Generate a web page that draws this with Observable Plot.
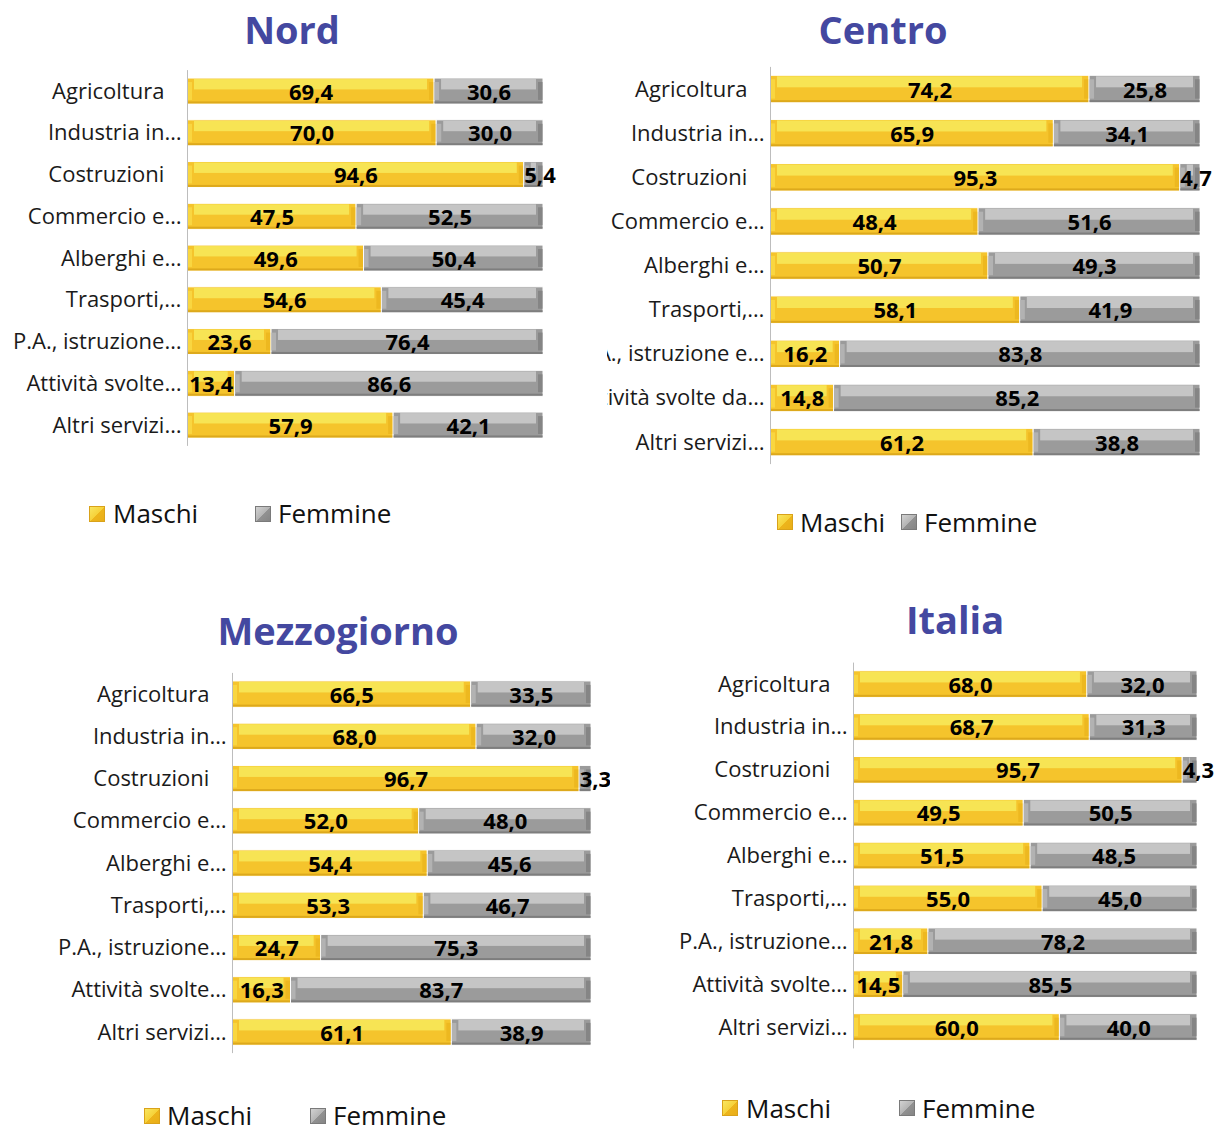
<!DOCTYPE html>
<html>
<head>
<meta charset="utf-8">
<script src="https://cdn.jsdelivr.net/npm/d3@7"></script>
<script src="https://cdn.jsdelivr.net/npm/@observablehq/plot@0.6"></script>
<style>
  html, body { margin: 0; padding: 0; background: #fff; }
  #page { position: relative; width: 1219px; height: 1128px; overflow: hidden; background: #fff; font-family: "Open Sans", sans-serif; }
  .panel { position: absolute; }
  .panel svg { overflow: hidden; display: block; }
  .title { position: absolute; transform: translateX(-50%); font-weight: 700; font-size: 38px; line-height: 1; color: #4448A0; white-space: nowrap; }
  .lg-sq { position: absolute; width: 16px; height: 16px; box-sizing: border-box; }
  .lg-sq.m { background: linear-gradient(135deg, #F9E660 0%, #F6D23A 50%, #EDB51C 51%, #E9AE18 100%); border: 1px solid #D9A21A; }
  .lg-sq.f { background: linear-gradient(135deg, #D2D2D2 0%, #B5B5B5 50%, #929292 51%, #858585 100%); border: 1px solid #7A7A7A; }
  .lg-tx { position: absolute; font-size: 26px; line-height: 20px; height: 20px; color: #111; white-space: nowrap; }
</style>
</head>
<body>
<div id="page"></div>
<script>
// ---- Data ----
const catsStd = ["Agricoltura", "Industria in…", "Costruzioni", "Commercio e…", "Alberghi e…", "Trasporti,…", "P.A., istruzione…", "Attività svolte…", "Altri servizi…"];
const catsCentro = ["Agricoltura", "Industria in…", "Costruzioni", "Commercio e…", "Alberghi e…", "Trasporti,…", "P.A., istruzione e…", "Attività svolte da…", "Altri servizi…"];

const nordMaschi   = [69.4, 70.0, 94.6, 47.5, 49.6, 54.6, 23.6, 13.4, 57.9];
const nordFemmine  = [30.6, 30.0, 5.4, 52.5, 50.4, 45.4, 76.4, 86.6, 42.1];
const centroMaschi  = [74.2, 65.9, 95.3, 48.4, 50.7, 58.1, 16.2, 14.8, 61.2];
const centroFemmine = [25.8, 34.1, 4.7, 51.6, 49.3, 41.9, 83.8, 85.2, 38.8];
const mezzoMaschi  = [66.5, 68.0, 96.7, 52.0, 54.4, 53.3, 24.7, 16.3, 61.1];
const mezzoFemmine = [33.5, 32.0, 3.3, 48.0, 45.6, 46.7, 75.3, 83.7, 38.9];
const italiaMaschi  = [68.0, 68.7, 95.7, 49.5, 51.5, 55.0, 21.8, 14.5, 60.0];
const italiaFemmine = [32.0, 31.3, 4.3, 50.5, 48.5, 45.0, 78.2, 85.5, 40.0];

const seriesNames = ["Maschi", "Femmine"];

const fmt = v => v.toFixed(1).replace(".", ",");

function makePanel(cfg) {
  const {cats, maschi, femmine, width, height, mt, mb, ml, mr} = cfg;
  const rows = [];
  cats.forEach((c, i) => {
    rows.push({cat: c, sex: seriesNames[0], v: maschi[i], x1: 0, x2: maschi[i]});
    rows.push({cat: c, sex: seriesNames[1], v: femmine[i], x1: maschi[i], x2: maschi[i] + femmine[i]});
  });
  const M = rows.filter(d => d.sex === "Maschi");
  const F = rows.filter(d => d.sex === "Femmine");
  const step = (height - mt - mb) / cats.length;
  const bw = step * 0.62;
  const bevel = (data, base, light, dark, edgeL, edgeR) => [
    Plot.barX(data, {x1: "x1", x2: "x2", y: "cat", fill: base, stroke: "#fff", strokeWidth: 1}),
    Plot.barX(data, {x1: "x1", x2: "x2", y: "cat", fill: light, insetLeft: 7, insetRight: 7, insetTop: 1, insetBottom: bw * 0.56}),
    Plot.barX(data, {x1: "x1", x2: "x2", y: "cat", fill: dark, insetTop: bw - 2.5, insetBottom: 0.5, insetLeft: 0.5, insetRight: 0.5}),
    Plot.barX(data, {x1: "x1", x2: "x1", y: "cat", fill: edgeL, insetLeft: 0.5, insetRight: -5, insetTop: 4, insetBottom: 4}),
    Plot.barX(data, {x1: "x2", x2: "x2", y: "cat", fill: edgeR, insetLeft: -5, insetRight: 0.5, insetTop: 4, insetBottom: 4})
  ];
  return Plot.plot({
    width, height,
    marginTop: mt, marginBottom: mb, marginLeft: ml, marginRight: mr,
    x: {domain: [0, 100], axis: null},
    y: {domain: cats, paddingInner: 0.38, paddingOuter: 0.19, round: false, label: null},
    style: {fontFamily: "'Open Sans', sans-serif", background: "transparent", overflow: "hidden"},
    marks: [
      ...bevel(M, "#F5C42C", "#F7E454", "#DDA91C", "#F9D640", "#EDB820"),
      ...bevel(F, "#9B9B9B", "#C5C5C5", "#7E7E7E", "#B2B2B2", "#858585"),
      Plot.ruleX([0], {stroke: "#BDBDBD", strokeWidth: 1}),
      Plot.axisY({tickSize: 0, tickPadding: 6, fontSize: 22, color: "#1a1a1a", label: null,
        tickFormat: d => d.endsWith("…") ? d : d + "\u00a0\u00a0\u00a0"}),
      Plot.text(rows.filter(d => d.v >= 8), {x: d => (d.x1 + d.x2) / 2, y: "cat", text: d => fmt(d.v),
        fontSize: 22, fontWeight: "bold", fill: "#000", dy: 1}),
      Plot.text(rows.filter(d => d.v < 8), {x: "x1", y: "cat", text: d => fmt(d.v), textAnchor: "start", dx: 0,
        fontSize: 22, fontWeight: "bold", fill: "#000", dy: 1})
    ]
  });
}

const page = document.getElementById("page");

function place(node, left, top) {
  const div = document.createElement("div");
  div.className = "panel";
  div.style.left = left + "px";
  div.style.top = top + "px";
  div.appendChild(node);
  page.appendChild(div);
}

function title(text, cx, baseline, size) {
  const d = document.createElement("div");
  d.className = "title";
  d.textContent = text;
  d.style.fontSize = size + "px";
  d.style.left = cx + "px";
  d.style.top = (baseline - 0.888 * size) + "px";
  page.appendChild(d);
}

function legend(items, yc, baseline) {
  items.forEach(([cls, sqx, tx, label]) => {
    const s = document.createElement("div");
    s.className = "lg-sq " + cls;
    s.style.left = sqx + "px";
    s.style.top = (yc - 8) + "px";
    page.appendChild(s);
    const t = document.createElement("div");
    t.className = "lg-tx";
    t.textContent = label;
    t.style.left = tx + "px";
    // line-height 20px box: baseline = top + (20 - 1.362*26)/2 + 1.069*26
    t.style.top = (baseline - ((20 - 1.362 * 26) / 2 + 1.069 * 26)) + "px";
    page.appendChild(t);
  });
}

// Nord
place(makePanel({cats: catsStd, maschi: nordMaschi, femmine: nordFemmine,
  width: 600, height: 410, mt: 10.1, mb: 24.1, ml: 187, mr: 57}), 0, 60);
// Centro
place(makePanel({cats: catsCentro, maschi: centroMaschi, femmine: centroFemmine,
  width: 612, height: 430, mt: 16.9, mb: 15.9, ml: 163, mr: 19}), 607, 50);
// Mezzogiorno
place(makePanel({cats: catsStd, maschi: mezzoMaschi, femmine: mezzoFemmine,
  width: 610, height: 410, mt: 12.9, mb: 16.9, ml: 232, mr: 19}), 0, 660);
// Italia
place(makePanel({cats: catsStd, maschi: italiaMaschi, femmine: italiaFemmine,
  width: 609, height: 410, mt: 12.6, mb: 11.6, ml: 243, mr: 22}), 610, 650);

title("Nord", 292, 44, 38);
title("Centro", 883, 44, 38);
title("Mezzogiorno", 338, 645, 38);
title("Italia", 955, 634, 38);

legend([["m", 89, 113, seriesNames[0]], ["f", 255, 278, seriesNames[1]]], 514, 523);
legend([["m", 777, 800, seriesNames[0]], ["f", 901, 924, seriesNames[1]]], 522, 532);
legend([["m", 144, 167, seriesNames[0]], ["f", 310, 333, seriesNames[1]]], 1116, 1125);
legend([["m", 722, 746, seriesNames[0]], ["f", 899, 922, seriesNames[1]]], 1108, 1118);
</script>
</body>
</html>
